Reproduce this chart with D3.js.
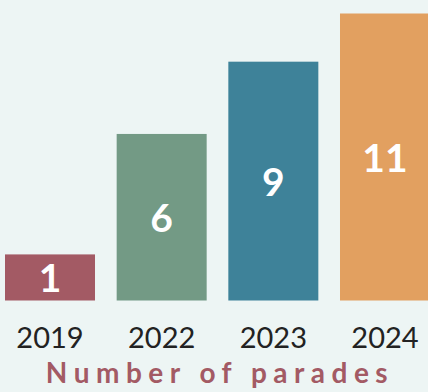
<!DOCTYPE html>
<html>
<head>
<meta charset="utf-8">
<script src="https://cdn.jsdelivr.net/npm/d3@7"></script>
<style>
  body { margin: 0; background: #edf5f4; }
  svg { display: block; }
</style>
</head>
<body>
<div id="chart"></div>
<script>
var years = ['2019', '2022', '2023', '2024'];
var parades = [1, 6, 9, 11];
var colors = ['#a35a64', '#739a85', '#3e8299', '#e2a060'];
var title = 'Number of parades';

var width = 428, height = 392;
var base = 300.5;

var svg = d3.select('#chart').append('svg')
  .attr('width', width)
  .attr('height', height);

svg.append('rect')
  .attr('width', width)
  .attr('height', height)
  .attr('fill', '#edf5f4');

var x = d3.scaleBand()
  .domain(years)
  .range([5, 430])
  .paddingInner(0.194)
  .paddingOuter(0);

// bars start with a small stub below zero, like the original
var y = d3.scaleLinear()
  .domain([0, 11])
  .range([278.5, 13.5]);

var data = years.map(function(yr, i) {
  return { year: yr, value: parades[i], color: colors[i] };
});

svg.selectAll('rect.bar')
  .data(data)
  .enter().append('rect')
  .attr('class', 'bar')
  .attr('x', function(d) { return x(d.year); })
  .attr('y', function(d) { return y(d.value); })
  .attr('width', x.bandwidth())
  .attr('height', function(d) { return base - y(d.value); })
  .attr('fill', function(d) { return d.color; });

svg.selectAll('text.val')
  .data(data)
  .enter().append('text')
  .attr('class', 'val')
  .attr('x', function(d) { return x(d.year) + x.bandwidth() / 2; })
  .attr('y', function(d) { return (y(d.value) + base) / 2; })
  .attr('dy', '0.38em')
  .attr('text-anchor', 'middle')
  .attr('font-family', 'Lato, sans-serif')
  .attr('font-weight', 'bold')
  .attr('font-size', '39px')
  .attr('fill', '#ffffff')
  .text(function(d) { return d.value; });

svg.selectAll('text.year')
  .data(years)
  .enter().append('text')
  .attr('class', 'year')
  .attr('x', function(d) { return x(d) + x.bandwidth() / 2; })
  .attr('y', 348)
  .attr('text-anchor', 'middle')
  .attr('font-family', 'Lato, sans-serif')
  .attr('font-size', '29px')
  .attr('fill', '#222222')
  .text(function(d) { return d; });

svg.append('text')
  .attr('x', 220)
  .attr('y', 383)
  .attr('text-anchor', 'middle')
  .attr('font-family', 'Lato, sans-serif')
  .attr('font-weight', 'bold')
  .attr('font-size', '28px')
  .attr('letter-spacing', '6.5px')
  .attr('fill', '#a35a64')
  .text(title);
</script>
</body>
</html>
